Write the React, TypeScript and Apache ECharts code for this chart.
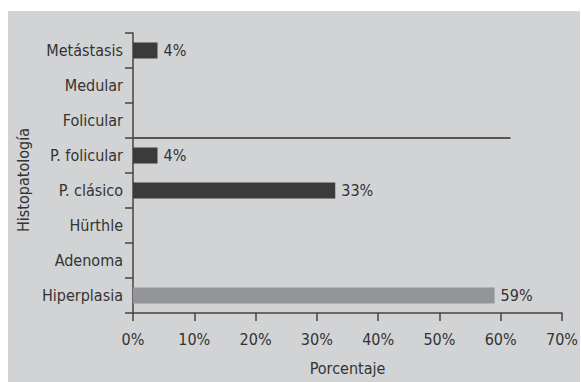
import React, { useEffect, useRef } from "react";
import * as echarts from "echarts";

// Histopathology categories, listed bottom to top
const categories = [
  "Hiperplasia",
  "Adenoma",
  "Hürthle",
  "P. clásico",
  "P. folicular",
  "Folicular",
  "Medular",
  "Metástasis",
];
// Percentage per category
const values = [59, 0, 0, 33, 4, 0, 0, 4];
// Horizontal divider between benign and malignant groups (category boundary, end value in %)
const dividerLevel = 5;
const dividerEnd = 61.6;

const FONT = "'Liberation Sans Narrow', 'DejaVu Sans Condensed', 'Noto Sans', sans-serif";
const SIZE = 16;
const TEXT = "#333333";
const AXIS = "#444444";

export default function App() {
  const ref = useRef<HTMLDivElement>(null);

  useEffect(() => {
    if (!ref.current) return;
    const chart = echarts.init(ref.current, undefined, { renderer: "svg" });
    chart.setOption({
      animation: false,
      backgroundColor: "#ffffff",
      textStyle: { fontFamily: FONT },
      graphic: [
        {
          type: "rect",
          shape: { x: 8, y: 11, width: 572, height: 371 },
          style: { fill: "#d2d3d5" },
          z: -10,
          silent: true,
        },
      ],
      grid: { left: 133, right: 19, top: 33, bottom: 69, outerBoundsMode: "none" },
      xAxis: {
        type: "value",
        min: 0,
        max: 70,
        interval: 10,
        name: "Porcentaje",
        nameLocation: "middle",
        nameGap: 47,
        nameTextStyle: { fontFamily: FONT, fontSize: SIZE, color: TEXT },
        axisLine: { show: true, lineStyle: { color: AXIS, width: 1.5 } },
        axisTick: { show: true, length: 8, lineStyle: { color: AXIS, width: 1.5 } },
        axisLabel: {
          formatter: (v: number) => `${v}%`,
          fontFamily: FONT,
          fontSize: SIZE,
          color: TEXT,
          margin: 18,
        },
        splitLine: { show: false },
      },
      yAxis: [
        {
          type: "category",
          data: categories,
          name: "Histopatología",
          nameLocation: "middle",
          nameGap: 87,
          nameRotate: 90,
          nameTextStyle: {
            fontFamily: FONT,
            fontSize: SIZE,
            color: TEXT,
            padding: [0, 14, 0, 0],
          },
          axisLine: { show: true, lineStyle: { color: AXIS, width: 1.5 } },
          axisTick: { show: true, length: 8, lineStyle: { color: AXIS, width: 1.5 } },
          axisLabel: { fontFamily: FONT, fontSize: SIZE, color: TEXT, margin: 10 },
        },
        {
          type: "value",
          min: 0,
          max: categories.length,
          show: false,
        },
      ],
      series: [
        {
          type: "bar",
          data: values.map((v, i) => ({
            value: v,
            itemStyle: { color: i === 0 ? "#939598" : "#3b3b3c" },
          })),
          barWidth: 16,
          label: {
            show: true,
            position: "right",
            distance: 6,
            formatter: (p: any) => (p.value > 0 ? `${p.value}%` : ""),
            fontFamily: FONT,
            fontSize: SIZE,
            color: TEXT,
          },
        },
        {
          type: "line",
          yAxisIndex: 1,
          data: [
            [0, dividerLevel],
            [dividerEnd, dividerLevel],
          ],
          symbol: "none",
          lineStyle: { color: "#555555", width: 2 },
          z: 1,
        },
      ],
    });
    return () => chart.dispose();
  }, []);

  return (
    <div
      ref={ref}
      style={{ position: "fixed", left: 0, top: 0, width: 581, height: 382 }}
    />
  );
}
